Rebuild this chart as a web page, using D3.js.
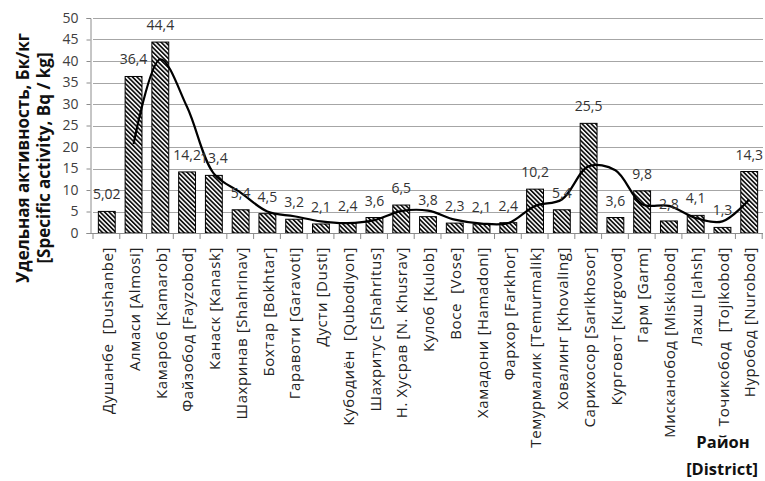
<!DOCTYPE html>
<html>
<head>
<meta charset="utf-8">
<script src="https://cdn.jsdelivr.net/npm/d3@7"></script>
<style>
  html, body { margin: 0; padding: 0; background: #fff; }
  svg { display: block; font-family: "Open Sans", "Noto Sans", sans-serif; }
</style>
</head>
<body>
<svg id="chart" width="765" height="481"></svg>
<script>
// Districts (Cyrillic name with transliteration)
const districts = [
  "Душанбе  [Dushanbe]", "Алмаси [Almosi]", "Камароб [Kamarob]", "Файзобод [Fayzobod]",
  "Канаск [Kanask]", "Шахринав [Shahrinav]", "Бохтар [Bokhtar]", "Гаравоти [Garavoti]",
  "Дусти [Dusti]", "Кубодиён  [Qubodiyon]", "Шахритус [Shahritus]", "Н. Хусрав [N. Khusrav]",
  "Кулоб [Kulob]", "Восе  [Vose]", "Хамадони [Hamadoni]", "Фархор [Farkhor]",
  "Темурмалик [Temurmalik]", "Ховалинг [Khovaling]", "Сарихосор [Sarikhosor]", "Курговот [Kurgovod]",
  "Гарм [Garm]", "Мисканобод [Miskiobod]", "Лахш [Iahsh]", "Точикобод  [Tojikobod]",
  "Нуробод [Nurobod]"
];

// Specific activity, Bq/kg
const activity = [
  5.02, 36.4, 44.4, 14.2, 13.4, 5.4, 4.5, 3.2, 2.1, 2.4, 3.6, 6.5, 3.8,
  2.3, 2.1, 2.4, 10.2, 5.4, 25.5, 3.6, 9.8, 2.8, 4.1, 1.3, 14.3
];

// Trend line values, starting at the second district
const trend = [
  20.7, 40.4, 29.3, 13.8, 9.4, 5.0, 3.9, 2.7, 2.3, 3.0, 5.1, 5.2,
  3.1, 2.2, 2.3, 6.3, 7.8, 15.5, 14.6, 6.7, 6.3, 3.5, 2.7, 7.8
];

const yTicks = [0, 5, 10, 15, 20, 25, 30, 35, 40, 45, 50];

const svg = d3.select("#chart");
const m = { left: 93, right: 763, top: 18, bottom: 233 };

const x = d3.scaleBand().domain(districts).range([m.left, m.right]).paddingInner(0.37).paddingOuter(0.2);
const y = d3.scaleLinear().domain([0, 50]).range([m.bottom, m.top]);
const step = x.step();

// downward diagonal hatch fill
const defs = svg.append("defs");
const pat = defs.append("pattern")
  .attr("id", "hatch").attr("patternUnits", "userSpaceOnUse")
  .attr("width", 3.2).attr("height", 3.2)
  .attr("patternTransform", "rotate(-45)");
pat.append("rect").attr("width", 3.2).attr("height", 3.2).attr("fill", "#fff");
pat.append("rect").attr("width", 1.7).attr("height", 3.2).attr("fill", "#111");

// horizontal gridlines
svg.append("g").selectAll("line").data(yTicks.filter(d => d > 0)).join("line")
  .attr("x1", m.left).attr("x2", m.right)
  .attr("y1", d => Math.round(y(d)) + 0.5).attr("y2", d => Math.round(y(d)) + 0.5)
  .attr("stroke", "#a6a6a6").attr("stroke-width", 1.2);

// y axis
const yAxis = svg.append("g").attr("transform", `translate(${m.left - 2.5},0)`)
  .call(d3.axisLeft(y).tickValues(yTicks).tickSize(4).tickPadding(8));
yAxis.select(".domain").attr("stroke", "#8c8c8c");
yAxis.selectAll(".tick line").attr("stroke", "#8c8c8c");
yAxis.selectAll(".tick text").attr("font-size", 14).attr("fill", "#404040")
  .attr("font-family", "Open Sans, sans-serif");

// bars
svg.append("g").selectAll("rect").data(districts).join("rect")
  .attr("x", d => x(d))
  .attr("y", (d, i) => y(activity[i]))
  .attr("width", x.bandwidth())
  .attr("height", (d, i) => y(0) - y(activity[i]))
  .attr("fill", "url(#hatch)")
  .attr("stroke", "#000").attr("stroke-width", 1);

// x axis line and category separators
const xg = svg.append("g");
xg.append("line").attr("x1", m.left - 2.5).attr("x2", m.right)
  .attr("y1", y(0) + 0.5).attr("y2", y(0) + 0.5).attr("stroke", "#8c8c8c");
const bounds = d3.range(districts.length + 1).map(i => m.left + i * step);
xg.selectAll("line.sep").data(bounds).join("line").attr("class", "sep")
  .attr("x1", d => d).attr("x2", d => d)
  .attr("y1", y(0)).attr("y2", y(0) + 6).attr("stroke", "#8c8c8c");

// category labels
svg.append("g").selectAll("text").data(districts).join("text")
  .attr("transform", d => `translate(${x(d) + x.bandwidth() / 2 + 1},247) rotate(-90)`)
  .attr("text-anchor", "end").attr("dy", "0.35em")
  .attr("font-size", 15).attr("letter-spacing", 0.6).attr("fill", "#222")
  .style("white-space", "pre")
  .text(d => d);

// trend line
const line = d3.line()
  .x((d, i) => x(districts[i + 1]) + x.bandwidth() / 2)
  .y(d => y(d))
  .curve(d3.curveCatmullRom.alpha(0.5));
svg.append("path").datum(trend).attr("d", line)
  .attr("fill", "none").attr("stroke", "#000").attr("stroke-width", 2.2)
  .attr("stroke-linejoin", "round");

// value labels
svg.append("g").selectAll("text").data(districts).join("text")
  .attr("x", d => x(d) + x.bandwidth() / 2)
  .attr("y", (d, i) => y(activity[i]) - 12)
  .attr("text-anchor", "middle")
  .attr("font-size", 14).attr("fill", "#333")
  .text((d, i) => String(activity[i]).replace(".", ","));

// axis titles
const yt = svg.append("g").attr("transform", "translate(0,158) rotate(-90)")
  .attr("font-weight", "bold").attr("font-size", 17).attr("fill", "#111").attr("text-anchor", "middle");
yt.append("text").attr("x", 0).attr("y", 29).text("Удельная активность, Бк/кг");
yt.append("text").attr("x", 0).attr("y", 50).text("[Specific activity, Bq / kg]");

const xt = svg.append("g").attr("font-weight", "bold").attr("font-size", 16.5)
  .attr("fill", "#111").attr("text-anchor", "middle");
xt.append("text").attr("x", 723).attr("y", 448).text("Район");
xt.append("text").attr("x", 722).attr("y", 475).text("[District]");
</script>
</body>
</html>
